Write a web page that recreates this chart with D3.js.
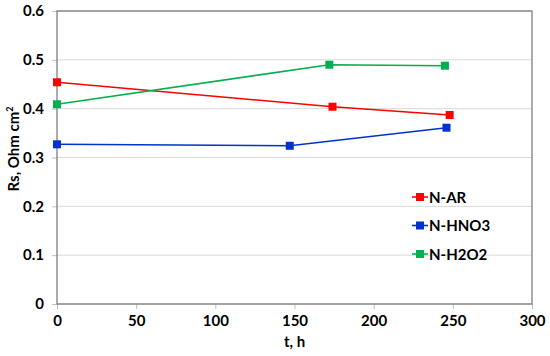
<!DOCTYPE html>
<html>
<head>
<meta charset="utf-8">
<script src="https://cdn.jsdelivr.net/npm/d3@7"></script>
<style>
body { margin: 0; background: #fff; }
text { font-family: Lato, "Open Sans", sans-serif; font-weight: bold; fill: #000; }
</style>
</head>
<body>
<svg width="550" height="356"></svg>
<script>
var seriesNames = ["N-AR", "N-HNO3", "N-H2O2"];
var seriesColors = ["#ff0000", "#0033cc", "#00b050"];
var tAR = [0, 174, 248];
var rsAR = [0.454, 0.404, 0.387];
var tHNO3 = [0, 147, 246];
var rsHNO3 = [0.327, 0.324, 0.361];
var tH2O2 = [0, 172, 245];
var rsH2O2 = [0.409, 0.490, 0.488];
var xTicks = [0, 50, 100, 150, 200, 250, 300];
var yTicks = [0, 0.1, 0.2, 0.3, 0.4, 0.5, 0.6];

var series = [
  {name: seriesNames[0], color: seriesColors[0], t: tAR, v: rsAR},
  {name: seriesNames[1], color: seriesColors[1], t: tHNO3, v: rsHNO3},
  {name: seriesNames[2], color: seriesColors[2], t: tH2O2, v: rsH2O2}
];

var svg = d3.select("svg");
var plotLeft = 57, plotRight = 532, plotTop = 11, plotBottom = 304;

var x = d3.scaleLinear().domain([0, 300]).range([plotLeft, plotRight]);
var y = d3.scaleLinear().domain([0, 0.6]).range([plotBottom, plotTop]);

// gridlines
svg.append("g").selectAll("line")
  .data(yTicks)
  .enter().append("line")
  .attr("x1", plotLeft).attr("x2", plotRight)
  .attr("y1", function(d) { return y(d); })
  .attr("y2", function(d) { return y(d); })
  .attr("stroke", "#d9d9d9").attr("stroke-width", 1);

// axes
var xAxis = svg.append("g")
  .attr("transform", "translate(0," + plotBottom + ")")
  .call(d3.axisBottom(x).tickValues(xTicks).tickSize(5).tickPadding(6));
var yAxis = svg.append("g")
  .attr("transform", "translate(" + plotLeft + ",0)")
  .call(d3.axisLeft(y).tickValues(yTicks).tickSize(5).tickPadding(8)
    .tickFormat(function(d) { return d === 0 ? "0" : d3.format(".1f")(d); }));

[xAxis, yAxis].forEach(function(a) {
  a.select(".domain").remove();
  a.selectAll(".tick line").attr("stroke", "#bfbfbf");
  a.selectAll("text").style("font-size", "15px");
});

// plot frame
svg.append("rect")
  .attr("x", plotLeft).attr("y", plotTop)
  .attr("width", plotRight - plotLeft).attr("height", plotBottom - plotTop)
  .attr("fill", "none").attr("stroke", "#7f7f7f").attr("stroke-width", 1.3);

var line = d3.line()
  .x(function(d) { return x(d[0]); })
  .y(function(d) { return y(d[1]); });

series.forEach(function(s) {
  var pts = s.t.map(function(t, i) { return [t, s.v[i]]; });
  svg.append("path")
    .datum(pts)
    .attr("d", line)
    .attr("fill", "none")
    .attr("stroke", s.color)
    .attr("stroke-width", 1.6);
  svg.selectAll(null)
    .data(pts)
    .enter().append("rect")
    .attr("x", function(d) { return x(d[0]) - 4; })
    .attr("y", function(d) { return y(d[1]) - 4; })
    .attr("width", 8).attr("height", 8)
    .attr("fill", s.color);
});

// legend
var legend = svg.append("g").attr("transform", "translate(412,197)");
series.forEach(function(s, i) {
  var g = legend.append("g").attr("transform", "translate(0," + (i * 28.5) + ")");
  g.append("line").attr("x1", 0).attr("x2", 16).attr("y1", 0).attr("y2", 0)
    .attr("stroke", s.color).attr("stroke-width", 1.6);
  g.append("rect").attr("x", 4).attr("y", -4).attr("width", 8).attr("height", 8)
    .attr("fill", s.color);
  g.append("text").attr("x", 17).attr("y", 5.5)
    .style("font-size", "15px").text(s.name);
});

// axis titles
svg.append("text")
  .attr("x", (plotLeft + plotRight) / 2).attr("y", 347)
  .attr("text-anchor", "middle")
  .style("font-size", "15px").text("t, h");

var yt = svg.append("text")
  .attr("transform", "translate(19,149) rotate(-90)")
  .attr("text-anchor", "middle")
  .style("font-size", "15px");
yt.append("tspan").text("Rs, Ohm cm");
yt.append("tspan").attr("dy", -6).style("font-size", "9px").text("2");
</script>
</body>
</html>
